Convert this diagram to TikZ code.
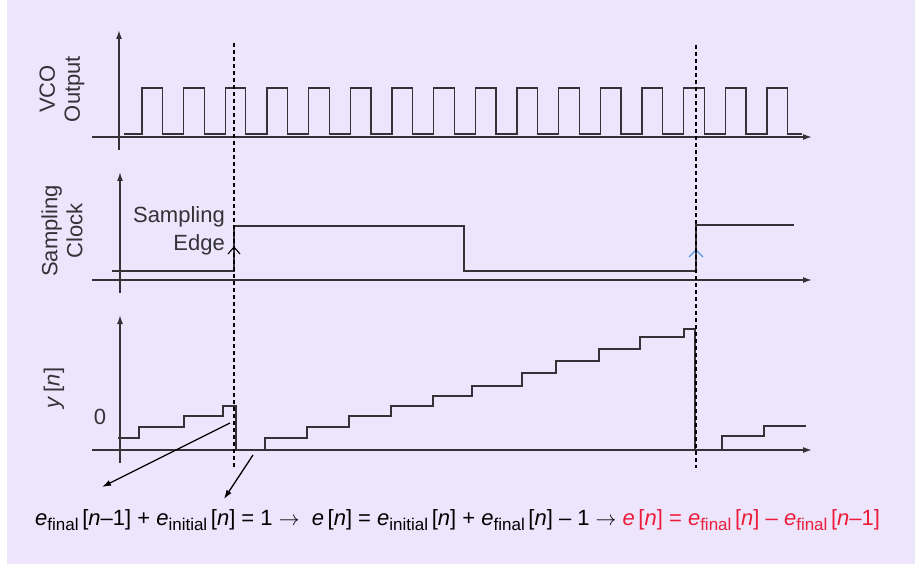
\documentclass[tikz,border=0pt]{standalone}
\usepackage{fontspec}
\setmainfont{Liberation Sans}
\usepackage{xcolor}
\usetikzlibrary{arrows.meta, positioning}

\definecolor{bglav}{RGB}{236,229,252}
\definecolor{trace}{RGB}{50,50,55}
\definecolor{eqred}{RGB}{237,28,58}
\definecolor{edgeblue}{RGB}{85,150,220}

% e with a subscript, as in the caption
\newcommand{\esub}[1]{\textit{e}\raisebox{-5pt}{\fontsize{17}{17}\selectfont #1}}
\newcommand{\nn}{\textit{n}}

\begin{document}
\begin{tikzpicture}[
  x=1pt, y=-1pt,
  axis/.style   = {-{Latex[length=9pt,width=6pt]}, line width=1.5pt, draw=trace},
  wave/.style   = {line width=1.3pt, draw=trace, line join=miter},
  guide/.style  = {dash pattern=on 4pt off 3pt, line width=1.1pt, draw=black},
  ptr/.style    = {-{Latex[length=9pt,width=6pt]}, line width=1.3pt, draw=black},
  edgemark/.style = {line width=1.1pt},
  lbl/.style    = {font=\fontsize{22}{25}\selectfont, inner sep=0pt, text=trace},
  ylbl/.style   = {lbl, rotate=90, align=center}
]

% background
\useasboundingbox (0,0) rectangle (915,564);
\fill[white] (0,0) rectangle (915,564);
\fill[bglav] (7,0) rectangle (915,564);

% ===================== VCO OUTPUT =====================
\draw[axis] (92,137) -- (812,137);
\draw[axis] (119,150) -- (119,30);
\node[ylbl] (vcolbl) at (62,89) {VCO\\Output};

\draw[wave] (124,134)
  foreach \i in {0,...,15}{ -- ({142+41.67*\i},134) -- ++(0,-46) -- ++(20.5,0) -- ++(0,46) }
  -- (802,134);

% ===================== SAMPLING CLOCK =====================
\draw[axis] (92,280) -- (812,280);
\draw[axis] (120,293) -- (120,172);
\node[ylbl] (clklbl) at (62,231) {Sampling\\Clock};

\draw[wave] (112,271) -- (234,271) -- (234,226) -- (464,226) -- (464,271)
  -- (696,271) -- (696,225) -- (794,225);

\node[lbl, align=right, anchor=east] (edgelbl) at (225,231)
  {Sampling\\[3pt]Edge};
\draw[edgemark] (228,254) -- (234,247) -- (240,254);
\draw[edgemark, edgeblue] (689,257) -- (696,250) -- (703,257);

% ===================== y[n] =====================
\draw[axis] (92,450) -- (812,450);
\draw[axis] (120,463) -- (120,315);
\node[ylbl] (ylbl) at (54,388) {\textit{y}\,[\textit{n}]};
\node[lbl] (zero) at (100,417) {0};

\draw[wave] (118,438) -- (139,438) -- (139,427) -- (184,427) -- (184,416)
  -- (223,416) -- (223,406) -- (236,406) -- (236,450)
  -- (265,450) -- (265,438) -- (307,438) -- (307,427) -- (349,427)
  -- (349,416) -- (391,416) -- (391,406) -- (433,406) -- (433,396)
  -- (472,396) -- (472,386) -- (522,386) -- (522,373) -- (556,373)
  -- (556,361) -- (599,361) -- (599,349) -- (640,349) -- (640,337)
  -- (684,337) -- (684,329) -- (695,329) -- (695,450)
  -- (722,450) -- (722,436) -- (764,436) -- (764,426) -- (806,426);

% sampling instants
\draw[guide] (234,43) -- (234,467);
\draw[guide] (696,45) -- (696,468);

% ===================== ERROR RELATION =====================
\node[lbl, anchor=base west, text=black] (eqn) at (35,525)
  {\esub{final}\,[\nn–1] + \esub{initial}\,[\nn] = 1 $\rightarrow$\ \
   \textit{e}\,[\nn] = \esub{initial}\,[\nn] + \esub{final}\,[\nn] – 1
   $\rightarrow$ \textcolor{eqred}{\textit{e}\,[\nn] = \esub{final}\,[\nn]
   – \esub{final}\,[\nn–1]}};

\coordinate (lastA) at (230,423);
\coordinate (firstB) at (253,455);
\coordinate (tipA) at (102,487);
\coordinate (tipB) at (224,499);
\draw[ptr] (lastA) -- (tipA);
\draw[ptr] (firstB) -- (tipB);

\end{tikzpicture}
\end{document}
